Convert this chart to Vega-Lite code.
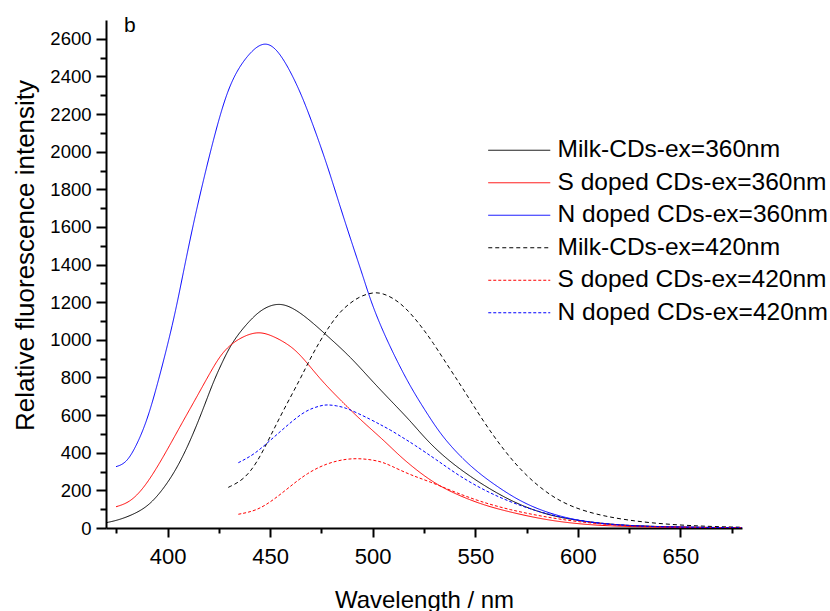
{
  "$schema": "https://vega.github.io/schema/vega-lite/v6.json",
  "width": 636,
  "height": 508,
  "autosize": "none",
  "padding": {"left": 106, "top": 20, "right": 88, "bottom": 83},
  "background": "white",
  "config": {
    "view": {"stroke": null},
    "font": "Liberation Sans",
    "axis": {"grid": false, "domainColor": "#000000", "tickColor": "#000000", "labelColor": "#000000", "titleColor": "#000000", "labelFont": "Liberation Sans", "titleFont": "Liberation Sans", "titleFontWeight": "normal", "domainWidth": 2, "tickWidth": 2}
  },
  "resolve": {"axis": {"x": "independent", "y": "independent"}},
  "datasets": {
    "spectra": [
      {"s": "Milk-CDs-ex=360nm", "x": 370, "y": 28},
      {"s": "Milk-CDs-ex=360nm", "x": 376.5, "y": 43},
      {"s": "Milk-CDs-ex=360nm", "x": 384.6, "y": 78},
      {"s": "Milk-CDs-ex=360nm", "x": 391.1, "y": 122},
      {"s": "Milk-CDs-ex=360nm", "x": 397.6, "y": 202},
      {"s": "Milk-CDs-ex=360nm", "x": 404.1, "y": 308},
      {"s": "Milk-CDs-ex=360nm", "x": 410.6, "y": 450},
      {"s": "Milk-CDs-ex=360nm", "x": 417.2, "y": 627},
      {"s": "Milk-CDs-ex=360nm", "x": 422, "y": 769},
      {"s": "Milk-CDs-ex=360nm", "x": 427, "y": 890},
      {"s": "Milk-CDs-ex=360nm", "x": 432.1, "y": 999},
      {"s": "Milk-CDs-ex=360nm", "x": 440.2, "y": 1106},
      {"s": "Milk-CDs-ex=360nm", "x": 446.7, "y": 1170},
      {"s": "Milk-CDs-ex=360nm", "x": 454.9, "y": 1200},
      {"s": "Milk-CDs-ex=360nm", "x": 463, "y": 1159},
      {"s": "Milk-CDs-ex=360nm", "x": 471.1, "y": 1088},
      {"s": "Milk-CDs-ex=360nm", "x": 479.2, "y": 1008},
      {"s": "Milk-CDs-ex=360nm", "x": 489, "y": 911},
      {"s": "Milk-CDs-ex=360nm", "x": 498.8, "y": 792},
      {"s": "Milk-CDs-ex=360nm", "x": 508.5, "y": 680},
      {"s": "Milk-CDs-ex=360nm", "x": 518.3, "y": 570},
      {"s": "Milk-CDs-ex=360nm", "x": 526.4, "y": 465},
      {"s": "Milk-CDs-ex=360nm", "x": 536.2, "y": 365},
      {"s": "Milk-CDs-ex=360nm", "x": 547.5, "y": 273},
      {"s": "Milk-CDs-ex=360nm", "x": 560.5, "y": 184},
      {"s": "Milk-CDs-ex=360nm", "x": 573.5, "y": 113},
      {"s": "Milk-CDs-ex=360nm", "x": 588.2, "y": 60},
      {"s": "Milk-CDs-ex=360nm", "x": 604.4, "y": 33},
      {"s": "Milk-CDs-ex=360nm", "x": 620, "y": 15},
      {"s": "Milk-CDs-ex=360nm", "x": 640, "y": 7},
      {"s": "Milk-CDs-ex=360nm", "x": 660, "y": 3},
      {"s": "Milk-CDs-ex=360nm", "x": 680, "y": 2},

      {"s": "S doped CDs-ex=360nm", "x": 374.9, "y": 113},
      {"s": "S doped CDs-ex=360nm", "x": 381.4, "y": 135},
      {"s": "S doped CDs-ex=360nm", "x": 387.9, "y": 205},
      {"s": "S doped CDs-ex=360nm", "x": 394.4, "y": 312},
      {"s": "S doped CDs-ex=360nm", "x": 400.9, "y": 436},
      {"s": "S doped CDs-ex=360nm", "x": 407.4, "y": 565},
      {"s": "S doped CDs-ex=360nm", "x": 413.9, "y": 690},
      {"s": "S doped CDs-ex=360nm", "x": 420.7, "y": 825},
      {"s": "S doped CDs-ex=360nm", "x": 427.2, "y": 945},
      {"s": "S doped CDs-ex=360nm", "x": 435.3, "y": 1012},
      {"s": "S doped CDs-ex=360nm", "x": 443.5, "y": 1045},
      {"s": "S doped CDs-ex=360nm", "x": 450, "y": 1028},
      {"s": "S doped CDs-ex=360nm", "x": 458.1, "y": 982},
      {"s": "S doped CDs-ex=360nm", "x": 464.6, "y": 925},
      {"s": "S doped CDs-ex=360nm", "x": 474.4, "y": 790},
      {"s": "S doped CDs-ex=360nm", "x": 484.1, "y": 682},
      {"s": "S doped CDs-ex=360nm", "x": 493.9, "y": 576},
      {"s": "S doped CDs-ex=360nm", "x": 505.2, "y": 468},
      {"s": "S doped CDs-ex=360nm", "x": 512, "y": 395},
      {"s": "S doped CDs-ex=360nm", "x": 518.3, "y": 335},
      {"s": "S doped CDs-ex=360nm", "x": 525, "y": 278},
      {"s": "S doped CDs-ex=360nm", "x": 531.3, "y": 232},
      {"s": "S doped CDs-ex=360nm", "x": 539, "y": 188},
      {"s": "S doped CDs-ex=360nm", "x": 547.5, "y": 149},
      {"s": "S doped CDs-ex=360nm", "x": 555, "y": 120},
      {"s": "S doped CDs-ex=360nm", "x": 563.8, "y": 93},
      {"s": "S doped CDs-ex=360nm", "x": 580, "y": 52},
      {"s": "S doped CDs-ex=360nm", "x": 596.3, "y": 25},
      {"s": "S doped CDs-ex=360nm", "x": 615, "y": 10},
      {"s": "S doped CDs-ex=360nm", "x": 640, "y": 4},
      {"s": "S doped CDs-ex=360nm", "x": 680, "y": 1},

      {"s": "N doped CDs-ex=360nm", "x": 374.9, "y": 326},
      {"s": "N doped CDs-ex=360nm", "x": 379.8, "y": 344},
      {"s": "N doped CDs-ex=360nm", "x": 384.6, "y": 432},
      {"s": "N doped CDs-ex=360nm", "x": 389.5, "y": 556},
      {"s": "N doped CDs-ex=360nm", "x": 394.4, "y": 733},
      {"s": "N doped CDs-ex=360nm", "x": 402.8, "y": 1090},
      {"s": "N doped CDs-ex=360nm", "x": 407.7, "y": 1360},
      {"s": "N doped CDs-ex=360nm", "x": 412.6, "y": 1619},
      {"s": "N doped CDs-ex=360nm", "x": 417.5, "y": 1850},
      {"s": "N doped CDs-ex=360nm", "x": 422.3, "y": 2062},
      {"s": "N doped CDs-ex=360nm", "x": 427.2, "y": 2257},
      {"s": "N doped CDs-ex=360nm", "x": 432.1, "y": 2399},
      {"s": "N doped CDs-ex=360nm", "x": 438.6, "y": 2510},
      {"s": "N doped CDs-ex=360nm", "x": 446.7, "y": 2592},
      {"s": "N doped CDs-ex=360nm", "x": 454, "y": 2545},
      {"s": "N doped CDs-ex=360nm", "x": 463, "y": 2363},
      {"s": "N doped CDs-ex=360nm", "x": 469.5, "y": 2186},
      {"s": "N doped CDs-ex=360nm", "x": 477.6, "y": 1938},
      {"s": "N doped CDs-ex=360nm", "x": 484.1, "y": 1708},
      {"s": "N doped CDs-ex=360nm", "x": 490.6, "y": 1490},
      {"s": "N doped CDs-ex=360nm", "x": 495.5, "y": 1330},
      {"s": "N doped CDs-ex=360nm", "x": 498.8, "y": 1215},
      {"s": "N doped CDs-ex=360nm", "x": 503.6, "y": 1080},
      {"s": "N doped CDs-ex=360nm", "x": 510.1, "y": 925},
      {"s": "N doped CDs-ex=360nm", "x": 518.3, "y": 751},
      {"s": "N doped CDs-ex=360nm", "x": 526.4, "y": 610},
      {"s": "N doped CDs-ex=360nm", "x": 534.5, "y": 475},
      {"s": "N doped CDs-ex=360nm", "x": 547.5, "y": 326},
      {"s": "N doped CDs-ex=360nm", "x": 560.5, "y": 220},
      {"s": "N doped CDs-ex=360nm", "x": 573.5, "y": 131},
      {"s": "N doped CDs-ex=360nm", "x": 588.2, "y": 69},
      {"s": "N doped CDs-ex=360nm", "x": 604.4, "y": 30},
      {"s": "N doped CDs-ex=360nm", "x": 620, "y": 14},
      {"s": "N doped CDs-ex=360nm", "x": 640, "y": 6},
      {"s": "N doped CDs-ex=360nm", "x": 660, "y": 3},
      {"s": "N doped CDs-ex=360nm", "x": 680, "y": 1},

      {"s": "Milk-CDs-ex=420nm", "x": 429.6, "y": 216},
      {"s": "Milk-CDs-ex=420nm", "x": 437, "y": 255},
      {"s": "Milk-CDs-ex=420nm", "x": 443.5, "y": 344},
      {"s": "Milk-CDs-ex=420nm", "x": 450, "y": 485},
      {"s": "Milk-CDs-ex=420nm", "x": 456.5, "y": 627},
      {"s": "Milk-CDs-ex=420nm", "x": 464.6, "y": 790},
      {"s": "Milk-CDs-ex=420nm", "x": 469.5, "y": 900},
      {"s": "Milk-CDs-ex=420nm", "x": 474.4, "y": 995},
      {"s": "Milk-CDs-ex=420nm", "x": 479, "y": 1075},
      {"s": "Milk-CDs-ex=420nm", "x": 484.1, "y": 1150},
      {"s": "Milk-CDs-ex=420nm", "x": 489, "y": 1196},
      {"s": "Milk-CDs-ex=420nm", "x": 493.9, "y": 1232},
      {"s": "Milk-CDs-ex=420nm", "x": 500.4, "y": 1254},
      {"s": "Milk-CDs-ex=420nm", "x": 505, "y": 1247},
      {"s": "Milk-CDs-ex=420nm", "x": 510.1, "y": 1221},
      {"s": "Milk-CDs-ex=420nm", "x": 515, "y": 1180},
      {"s": "Milk-CDs-ex=420nm", "x": 519.9, "y": 1123},
      {"s": "Milk-CDs-ex=420nm", "x": 524.8, "y": 1055},
      {"s": "Milk-CDs-ex=420nm", "x": 529.6, "y": 982},
      {"s": "Milk-CDs-ex=420nm", "x": 534.5, "y": 898},
      {"s": "Milk-CDs-ex=420nm", "x": 541, "y": 790},
      {"s": "Milk-CDs-ex=420nm", "x": 544.3, "y": 735},
      {"s": "Milk-CDs-ex=420nm", "x": 554, "y": 565},
      {"s": "Milk-CDs-ex=420nm", "x": 563.8, "y": 415},
      {"s": "Milk-CDs-ex=420nm", "x": 573.5, "y": 291},
      {"s": "Milk-CDs-ex=420nm", "x": 584.9, "y": 184},
      {"s": "Milk-CDs-ex=420nm", "x": 596.3, "y": 113},
      {"s": "Milk-CDs-ex=420nm", "x": 612.6, "y": 60},
      {"s": "Milk-CDs-ex=420nm", "x": 635.3, "y": 25},
      {"s": "Milk-CDs-ex=420nm", "x": 660, "y": 9},
      {"s": "Milk-CDs-ex=420nm", "x": 680, "y": 4},

      {"s": "S doped CDs-ex=420nm", "x": 434.5, "y": 73},
      {"s": "S doped CDs-ex=420nm", "x": 443.5, "y": 92},
      {"s": "S doped CDs-ex=420nm", "x": 451.6, "y": 149},
      {"s": "S doped CDs-ex=420nm", "x": 459.7, "y": 220},
      {"s": "S doped CDs-ex=420nm", "x": 467.9, "y": 291},
      {"s": "S doped CDs-ex=420nm", "x": 477.6, "y": 344},
      {"s": "S doped CDs-ex=420nm", "x": 487.4, "y": 369},
      {"s": "S doped CDs-ex=420nm", "x": 495.5, "y": 369},
      {"s": "S doped CDs-ex=420nm", "x": 503.6, "y": 355},
      {"s": "S doped CDs-ex=420nm", "x": 508.5, "y": 333},
      {"s": "S doped CDs-ex=420nm", "x": 518.3, "y": 282},
      {"s": "S doped CDs-ex=420nm", "x": 528, "y": 246},
      {"s": "S doped CDs-ex=420nm", "x": 539.4, "y": 193},
      {"s": "S doped CDs-ex=420nm", "x": 552.4, "y": 140},
      {"s": "S doped CDs-ex=420nm", "x": 567, "y": 96},
      {"s": "S doped CDs-ex=420nm", "x": 583.3, "y": 60},
      {"s": "S doped CDs-ex=420nm", "x": 599.5, "y": 33},
      {"s": "S doped CDs-ex=420nm", "x": 620, "y": 13},
      {"s": "S doped CDs-ex=420nm", "x": 640, "y": 5},
      {"s": "S doped CDs-ex=420nm", "x": 680, "y": 1},

      {"s": "N doped CDs-ex=420nm", "x": 434.5, "y": 347},
      {"s": "N doped CDs-ex=420nm", "x": 441.8, "y": 388},
      {"s": "N doped CDs-ex=420nm", "x": 448.4, "y": 450},
      {"s": "N doped CDs-ex=420nm", "x": 454.9, "y": 512},
      {"s": "N doped CDs-ex=420nm", "x": 461.4, "y": 574},
      {"s": "N doped CDs-ex=420nm", "x": 467.9, "y": 627},
      {"s": "N doped CDs-ex=420nm", "x": 474.4, "y": 650},
      {"s": "N doped CDs-ex=420nm", "x": 477.6, "y": 656},
      {"s": "N doped CDs-ex=420nm", "x": 482.5, "y": 650},
      {"s": "N doped CDs-ex=420nm", "x": 487, "y": 638},
      {"s": "N doped CDs-ex=420nm", "x": 492.3, "y": 612},
      {"s": "N doped CDs-ex=420nm", "x": 498.8, "y": 578},
      {"s": "N doped CDs-ex=420nm", "x": 503.6, "y": 550},
      {"s": "N doped CDs-ex=420nm", "x": 508.5, "y": 522},
      {"s": "N doped CDs-ex=420nm", "x": 515, "y": 478},
      {"s": "N doped CDs-ex=420nm", "x": 519.9, "y": 445},
      {"s": "N doped CDs-ex=420nm", "x": 531.3, "y": 361},
      {"s": "N doped CDs-ex=420nm", "x": 542.6, "y": 273},
      {"s": "N doped CDs-ex=420nm", "x": 555.6, "y": 193},
      {"s": "N doped CDs-ex=420nm", "x": 568.6, "y": 131},
      {"s": "N doped CDs-ex=420nm", "x": 583.3, "y": 78},
      {"s": "N doped CDs-ex=420nm", "x": 599.5, "y": 39},
      {"s": "N doped CDs-ex=420nm", "x": 620, "y": 15},
      {"s": "N doped CDs-ex=420nm", "x": 640, "y": 6},
      {"s": "N doped CDs-ex=420nm", "x": 680, "y": 1}
    ]
  },
  "layer": [
    {
      "data": {"name": "spectra"},
      "mark": {"type": "line", "strokeWidth": 1, "interpolate": "basis", "clip": true},
      "encoding": {
        "x": {
          "field": "x", "type": "quantitative",
          "scale": {"domain": [370, 680], "nice": false, "zero": false},
          "axis": {
            "orient": "bottom",
            "title": "Wavelength / nm",
            "titleFontSize": 24,
            "titleBaseline": "alphabetic",
            "titleY": 79,
            "labelFontSize": 22,
            "values": [400, 450, 500, 550, 600, 650],
            "tickSize": 9,
            "labelPadding": 9.5,
            "labelFlush": false,
            "labelOverlap": false
          }
        },
        "y": {
          "field": "y", "type": "quantitative",
          "scale": {"domain": [0, 2700], "nice": false},
          "axis": {
            "orient": "left",
            "title": "Relative fluorescence intensity",
            "titleFontSize": 26,
            "titleBaseline": "alphabetic",
            "titleX": -73,
            "titleY": 235,
            "labelFontSize": 18.5,
            "values": [0, 200, 400, 600, 800, 1000, 1200, 1400, 1600, 1800, 2000, 2200, 2400, 2600],
            "tickSize": 10,
            "labelPadding": 5,
            "labelFlush": false,
            "labelOverlap": false,
            "format": "d"
          }
        },
        "color": {
          "field": "s", "type": "nominal",
          "scale": {
            "domain": ["Milk-CDs-ex=360nm", "S doped CDs-ex=360nm", "N doped CDs-ex=360nm", "Milk-CDs-ex=420nm", "S doped CDs-ex=420nm", "N doped CDs-ex=420nm"],
            "range": ["#000000", "#ff0000", "#0000ff", "#000000", "#ff0000", "#0000ff"]
          },
          "legend": {
            "title": null,
            "orient": "none",
            "legendX": 401,
            "legendY": 118,
            "symbolType": "M-3.1,0H3.1",
            "symbolSize": 400,
            "symbolStrokeWidth": 1,
            "labelFontSize": 24.5,
            "labelFont": "Liberation Sans",
            "labelColor": "#000000",
            "labelBaseline": "middle",
            "labelOffset": 26,
            "labelLimit": 400,
            "rowPadding": 7.5
          }
        },
        "strokeDash": {
          "field": "s", "type": "nominal",
          "scale": {
            "domain": ["Milk-CDs-ex=360nm", "S doped CDs-ex=360nm", "N doped CDs-ex=360nm", "Milk-CDs-ex=420nm", "S doped CDs-ex=420nm", "N doped CDs-ex=420nm"],
            "range": [[1, 0], [1, 0], [1, 0], [4, 3], [3, 2], [3, 2]]
          },
          "legend": {"title": null}
        }
      }
    },
    {
      "data": {"values": [{"label": "b", "x": 378.8, "y": 2636}]},
      "mark": {"type": "text", "align": "left", "baseline": "alphabetic", "fontSize": 21, "font": "Liberation Sans", "color": "#000000"},
      "encoding": {
        "x": {
          "field": "x", "type": "quantitative",
          "axis": {"orient": "bottom", "title": null, "labels": false, "domain": false, "tickSize": 5, "values": [375, 425, 475, 525, 575, 625, 675]}
        },
        "y": {
          "field": "y", "type": "quantitative",
          "axis": {"orient": "left", "title": null, "labels": false, "domain": false, "tickSize": 6, "values": [100, 300, 500, 700, 900, 1100, 1300, 1500, 1700, 1900, 2100, 2300, 2500]}
        },
        "text": {"field": "label"}
      }
    }
  ]
}
